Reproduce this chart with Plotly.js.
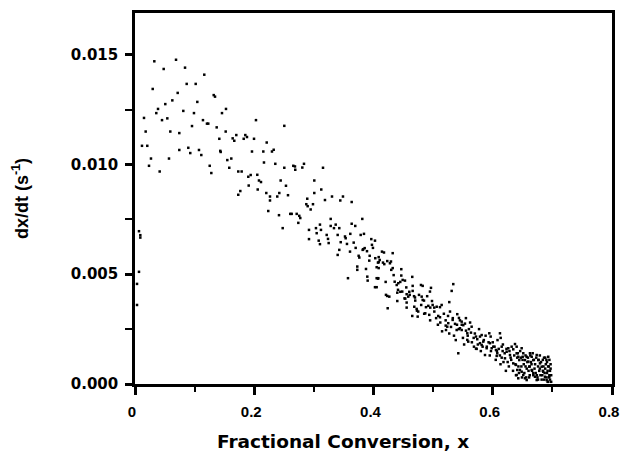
<!DOCTYPE html>
<html>
<head>
<meta charset="utf-8">
<script src="https://cdn.plot.ly/plotly-3.0.1.min.js"></script>
<style>html,body{margin:0;padding:0;background:#fff;}#chart{width:620px;height:460px;}</style>
</head>
<body>
<div id="chart"></div>
<script>
// Fractional conversion, x
var conversion = [
0.0324,0.0688,0.0481,0.0839,0.1162,0.0867,0.1018,0.0297,0.0716,0.1320,
0.1342,0.0626,0.1045,0.0508,0.0386,0.0357,0.0810,0.0989,0.1526,0.1459,
0.0151,0.0453,0.0542,0.1140,0.1207,0.1229,0.2029,0.0956,0.1370,0.0179,
0.0592,0.0743,0.1521,0.1699,0.1850,0.1878,0.1414,0.1638,0.1665,0.1823,
0.1996,0.0117,0.0206,0.0743,0.0894,0.0927,0.1073,0.1112,0.1430,0.1437,
0.1962,0.2152,0.0268,0.0570,0.0235,0.0414,0.1253,0.1280,0.1548,0.1615,
0.1581,0.1732,0.1789,0.1900,0.1940,0.2051,0.2079,0.2113,0.2163,0.1907,
0.1766,0.1732,0.2058,0.0067,0.0089,0.0089,0.0067,0.0034,0.0034,
0.2504,0.2209,0.2297,0.2326,0.2353,0.2504,0.2655,0.2683,0.2688,0.2806,
0.2834,0.3153,0.2443,0.2532,0.3007,0.3124,0.3007,0.2202,0.2264,0.2386,
0.2420,0.2566,0.2264,0.2889,0.2873,0.2896,0.2985,0.2946,0.3304,0.3186,
0.3488,0.3443,0.3634,0.2235,0.2415,0.2604,0.2628,0.2712,0.2755,0.2772,
0.3282,0.3812,
0.2477,0.2739,0.2918,0.2918,0.3035,0.3047,0.3102,0.3119,0.3081,0.3102,
0.3215,0.3237,0.3248,0.3282,0.3337,0.3366,0.3426,0.3399,0.3522,0.3533,
0.3450,0.3555,0.3426,0.3399,0.3634,0.3694,0.3611,0.3785,0.3840,0.3668,
0.3606,0.3701,0.3751,0.3762,0.3818,0.3852,0.3963,0.4025,0.3974,0.3991,
0.3891,0.3936,0.3929,0.4087,0.4087,0.4053,0.3728,0.3728,0.3874,0.3896,
0.3902,0.3572,0.4053,0.4080,0.4025,0.4053,
0.3829,0.4030,0.4075,0.4104,0.4142,0.4159,0.4181,0.4322,0.4276,0.4293,
0.4087,0.4322,0.4298,0.4466,0.4075,0.4204,0.4338,0.4355,0.4466,0.4650,
0.4389,0.4416,0.4449,0.4489,0.4411,0.4399,0.4482,0.4657,0.4657,0.4209,
0.4231,0.4265,0.4399,0.4556,0.4583,0.4607,0.4533,0.4763,0.4796,0.4808,
0.4825,0.4847,0.4964,0.4947,0.4981,0.4919,0.4952,0.4992,0.5019,0.5060,
0.5115,0.5143,0.5271,0.5311,0.5338,0.4556,0.4556,0.4684,0.4724,0.4238,
0.4176,0.4231,0.4528,0.4696,0.4825,0.4729,0.4741,0.4868,0.4935,0.5086,
0.5115,0.5283,0.5405,0.5433,0.5211,0.5237,0.5254,0.5216,0.5328,0.5367,
0.5395,0.5479,0.5506,0.5534,0.5450,0.5479,0.5551,0.5573,0.5646,0.5635,
0.5573,0.5589,0.5422,0.5719,0.5740,0.5786,0.5814,0.5685,0.5719,0.5786,
0.5814,0.5841,0.5870,0.5898,0.5942,0.5965,0.5953,0.5982,0.6009,0.6054,
0.6076,0.6066,0.6121,0.6133,0.6150,0.6166,0.6205,0.6233,0.6261,0.6289,
0.6317,0.6344,0.6373,0.6401,0.6401,0.6428,0.6445,0.6344,0.6389,0.6411,
0.6485,0.6512,0.6502,0.6540,0.6569,0.6596,0.6624,0.6653,0.6680,0.6456,
0.6485,0.6512,0.6540,0.6569,0.6612,0.6653,0.6680,0.6708,0.6737,0.6737,
0.6763,0.6792,0.6821,0.6847,0.6876,0.6904,0.6931,0.6948,0.6931,0.6401,
0.6428,
0.655,0.660,0.662,0.665,0.670,0.672,0.675,0.678,0.680,0.682,
0.685,0.687,0.689,0.690,0.692,0.694,0.695,0.696,0.697,0.691,
0.688,0.684,0.679,0.676,0.669,0.663,0.658,0.652,0.647,0.643,
0.505,0.512,0.518,0.530,0.535,0.545,0.550,0.560,0.565,0.570,
0.575,0.580,0.585,0.590,0.595,0.600,0.605,0.610,0.615,0.620,
0.625,0.630,0.515,0.525,0.540,0.555,0.480,0.485,0.490,0.470,
0.460,0.455,0.465,
0.631,0.634,0.636,0.638,0.641,0.644,0.646,0.648,0.650,0.653,
0.655,0.657,0.659,0.661,0.664,0.666,0.667,0.671,0.673,0.674,
0.677,0.679,0.681,0.683,0.686,0.686,0.688,0.690,0.691,0.693,
0.694,0.695,0.696,0.697,0.698,0.698,0.692,0.684,0.676,0.668,
0.662,0.656,0.649,0.642,0.639,0.627,0.622,0.618,0.612,0.607,
0.502,0.508,0.521,0.527,0.533,0.538,0.543,0.548,0.552,0.558,
0.562,0.568,0.573,0.577,0.583,0.588,0.593,0.597,0.603,0.608,
0.613,0.617,0.623,0.628,0.495,0.488,0.475,0.468,0.452,0.445
];
// Rate dx/dt (1/s)
var rate = [
0.01470,0.01477,0.01435,0.01441,0.01409,0.01367,0.01367,0.01344,0.01326,0.01316,
0.01309,0.01292,0.01285,0.01275,0.01253,0.01234,0.01244,0.01234,0.01253,0.01234,
0.01212,0.01202,0.01210,0.01202,0.01186,0.01186,0.01202,0.01175,0.01169,0.01150,
0.01150,0.01143,0.01150,0.01134,0.01134,0.01125,0.01117,0.01119,0.01108,0.01117,
0.01117,0.01085,0.01085,0.01066,0.01076,0.01052,0.01066,0.01043,0.01062,0.01057,
0.01059,0.01059,0.01027,0.01027,0.00994,0.00968,0.00994,0.00961,0.01020,0.01027,
0.00985,0.00968,0.00968,0.00944,0.00952,0.00953,0.00927,0.00920,0.01009,0.00904,
0.00879,0.00862,0.00886,0.00696,0.00678,0.00667,0.00511,0.00456,0.00360,
0.01176,0.01100,0.01059,0.01067,0.01003,0.00985,0.00994,0.00991,0.00976,0.00986,
0.01003,0.00985,0.00927,0.00903,0.00927,0.00886,0.00870,0.00870,0.00854,0.00854,
0.00870,0.00860,0.00836,0.00844,0.00819,0.00810,0.00819,0.00795,0.00854,0.00838,
0.00854,0.00836,0.00829,0.00788,0.00769,0.00775,0.00775,0.00775,0.00766,0.00756,
0.00752,0.00752,
0.00710,0.00734,0.00702,0.00660,0.00710,0.00687,0.00726,0.00702,0.00653,0.00637,
0.00679,0.00661,0.00642,0.00720,0.00710,0.00726,0.00710,0.00679,0.00672,0.00664,
0.00646,0.00638,0.00611,0.00588,0.00730,0.00720,0.00684,0.00679,0.00684,0.00644,
0.00603,0.00620,0.00584,0.00576,0.00611,0.00619,0.00660,0.00653,0.00634,0.00620,
0.00605,0.00584,0.00562,0.00578,0.00555,0.00532,0.00535,0.00520,0.00524,0.00489,
0.00471,0.00482,0.00482,0.00482,0.00441,0.00441,
0.00614,0.00573,0.00553,0.00565,0.00603,0.00553,0.00546,0.00596,0.00550,0.00558,
0.00528,0.00528,0.00520,0.00523,0.00480,0.00465,0.00496,0.00466,0.00494,0.00488,
0.00451,0.00459,0.00465,0.00474,0.00429,0.00416,0.00421,0.00447,0.00424,0.00406,
0.00401,0.00398,0.00378,0.00409,0.00398,0.00406,0.00389,0.00406,0.00451,0.00398,
0.00447,0.00380,0.00438,0.00421,0.00378,0.00356,0.00348,0.00360,0.00348,0.00352,
0.00350,0.00360,0.00373,0.00424,0.00455,0.00371,0.00348,0.00352,0.00342,0.00345,
0.00599,0.00560,0.00471,0.00394,0.00383,0.00334,0.00307,0.00322,0.00315,0.00310,
0.00304,0.00330,0.00318,0.00301,0.00266,0.00261,0.00277,0.00246,0.00292,0.00274,
0.00246,0.00284,0.00268,0.00275,0.00254,0.00246,0.00243,0.00231,0.00261,0.00234,
0.00201,0.00193,0.00140,0.00216,0.00204,0.00216,0.00223,0.00170,0.00161,0.00186,
0.00178,0.00193,0.00132,0.00163,0.00231,0.00216,0.00186,0.00163,0.00170,0.00155,
0.00140,0.00128,0.00231,0.00210,0.00170,0.00150,0.00117,0.00147,0.00163,0.00132,
0.00170,0.00158,0.00182,0.00170,0.00140,0.00124,0.00109,0.00094,0.00087,0.00064,
0.00163,0.00140,0.00124,0.00109,0.00124,0.00102,0.00140,0.00124,0.00109,0.00064,
0.00056,0.00041,0.00026,0.00018,0.00079,0.00064,0.00049,0.00033,0.00018,0.00132,
0.00109,0.00094,0.00079,0.00056,0.00033,0.00018,0.00010,0.00033,0.00124,0.00041,
0.00026,
0.00080,0.00060,0.00040,0.00090,0.00070,0.00050,0.00030,0.00060,0.00040,0.00020,
0.00080,0.00050,0.00090,0.00030,0.00060,0.00080,0.00040,0.00020,0.00070,0.00100,
0.00120,0.00110,0.00130,0.00080,0.00110,0.00130,0.00100,0.00090,0.00120,0.00080,
0.00300,0.00280,0.00320,0.00260,0.00220,0.00290,0.00210,0.00250,0.00190,0.00230,
0.00180,0.00150,0.00200,0.00170,0.00130,0.00190,0.00110,0.00160,0.00120,0.00140,
0.00100,0.00120,0.00240,0.00310,0.00270,0.00300,0.00360,0.00320,0.00400,0.00380,
0.00420,0.00440,0.00310,
0.0011,0.0006,0.0013,0.0009,0.0012,0.0005,0.0015,0.0008,0.0011,0.0005,
0.0013,0.0007,0.0012,0.0003,0.0010,0.0006,0.0014,0.0009,0.0012,0.0004,
0.0011,0.0007,0.0010,0.0004,0.0012,0.0002,0.0007,0.0011,0.0005,0.0008,
0.0003,0.0011,0.0006,0.0009,0.0004,0.0001,0.0001,0.0006,0.0002,0.0004,
0.0008,0.0003,0.0003,0.0014,0.0004,0.0008,0.0006,0.0010,0.0013,0.0015,
0.0033,0.0027,0.0029,0.0023,0.0030,0.0020,0.0025,0.0027,0.0018,0.0022,
0.0028,0.0021,0.0016,0.0025,0.0017,0.0022,0.0019,0.0015,0.0017,0.0020,
0.0009,0.0018,0.0016,0.0015,0.0029,0.0035,0.0033,0.0040,0.0039,0.0042
];
var xTickVals = [0, 0.2, 0.4, 0.6, 0.8];
var xTickText = ['0', '0.2', '0.4', '0.6', '0.8'];
var yTickVals = [0, 0.005, 0.010, 0.015];
var yTickText = ['0.000', '0.005', '0.010', '0.015'];

var trace = {
  x: conversion, y: rate, type: 'scatter', mode: 'markers',
  marker: {symbol: 'square', size: 2.5, color: 'black'},
  showlegend: false
};

var layout = {
  width: 620, height: 460,
  margin: {l: 135, r: 8, t: 13, b: 76},
  showlegend: false,
  xaxis: {
    range: [0, 0.8], tickmode: 'array', tickvals: xTickVals, ticktext: xTickText,
    showline: true, linecolor: 'black', linewidth: 2.5, mirror: true,
    showgrid: false, zeroline: false, ticklabeloverflow: 'allow',
    ticklabelstandoff: 4, ticklabelshift: -3,
    ticks: 'outside', ticklen: 8, tickwidth: 2.5, tickcolor: 'black',
    tickfont: {family: 'Liberation Sans', size: 15, color: 'black', weight: 700},
    minor: {ticks: 'outside', dtick: 0.1, ticklen: 5, tickwidth: 2, tickcolor: 'black', showgrid: false}
  },
  yaxis: {
    range: [0, 0.0169], tickmode: 'array', tickvals: yTickVals, ticktext: yTickText,
    showline: true, linecolor: 'black', linewidth: 2.5, mirror: true,
    showgrid: false, zeroline: false, ticklabelstandoff: 4,
    ticks: 'outside', ticklen: 7, tickwidth: 2.5, tickcolor: 'black',
    tickfont: {family: 'DejaVu Sans', size: 15, color: 'black', weight: 700},
    minor: {ticks: 'outside', dtick: 0.0025, ticklen: 7, tickwidth: 2, tickcolor: 'black', showgrid: false},
    title: {text: 'dx/dt (s<sup>-1</sup>)', standoff: 38,
      font: {family: 'Liberation Sans', size: 18, color: 'black', weight: 700}}
  },
  annotations: [{
    text: 'Fractional Conversion, x', xref: 'paper', yref: 'paper',
    x: 0.436, y: -0.156, xanchor: 'center', yanchor: 'middle', showarrow: false,
    font: {family: 'DejaVu Sans', size: 18.5, color: 'black', weight: 700}
  }]
};

Plotly.newPlot('chart', [trace], layout, {displayModeBar: false});
</script>
</body>
</html>
